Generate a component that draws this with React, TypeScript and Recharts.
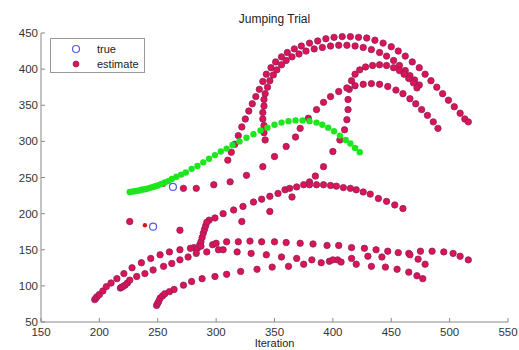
import { ScatterChart, Scatter, XAxis, YAxis } from 'recharts';

type P = [number, number];

const xTicks = [150, 200, 250, 300, 350, 400, 450, 500, 550];
const yTicks = [50, 100, 150, 200, 250, 300, 350, 400, 450];

// big outer arc (top band)
const outerArc: P[] = [
  [310, 274], [313, 285], [316, 296], [319, 308], [322, 320], [325, 331], [328, 342], [331, 352],
  [334, 362], [337, 372], [340, 383], [343, 393], [347, 402], [351, 410], [356, 417], [361, 423],
  [367, 428], [373, 432], [380, 436], [387, 439], [394, 442], [401, 444], [408, 445], [415, 445],
  [422, 444], [429, 443], [436, 440], [443, 436], [450, 431], [456, 425], [462, 418], [468, 410],
  [474, 402], [479, 393], [484, 384], [489, 375], [494, 366], [499, 357], [504, 348], [509, 339],
  [513, 331], [516, 327],
];

// inner arc of the top band
const innerArc: P[] = [
  [342, 302], [341, 312], [341, 322], [340, 331], [340, 340], [341, 349], [341, 358], [342, 366],
  [344, 375], [346, 384], [349, 392], [352, 399], [356, 406], [360, 412], [365, 417], [371, 421],
  [377, 425], [384, 428], [391, 430], [398, 432], [405, 433], [412, 433], [419, 432], [426, 430],
  [433, 427], [440, 423], [446, 418], [452, 412], [457, 405], [462, 398], [466, 391], [470, 385],
  [474, 378],
];

// arc rising from the middle arc with a vertical run
const verticalArc: P[] = [
  [380, 244], [385, 252], [392, 265], [400, 286], [406, 302], [410, 316], [412, 330], [413, 344],
  [413, 358], [414, 372], [416, 384], [419, 393], [423, 399], [428, 403], [434, 405], [440, 406],
  [446, 405], [452, 402], [457, 398], [461, 393], [465, 387], [469, 381], [472, 374],
];

// sparse diagonal turning into the lowest of the upper arcs
const diagArc: P[] = [
  [272, 235], [283, 235], [298, 240], [312, 244], [326, 253], [340, 265], [350, 279], [360, 293],
  [368, 306], [372, 318], [379, 332], [386, 344], [392, 354], [398, 362], [405, 369], [412, 374],
  [419, 377], [426, 379], [433, 380], [440, 379], [447, 376], [454, 371], [460, 366], [466, 359],
  [471, 352], [476, 344], [481, 336], [486, 327], [490, 318],
];

// middle arc ending near (460, 206)
const midArc: P[] = [
  [294, 191], [299, 194], [306, 200], [315, 205], [323, 210], [332, 216], [339, 220], [346, 224],
  [353, 228], [359, 233], [363, 235], [369, 237], [375, 240], [380, 240], [386, 240], [392, 240],
  [398, 239], [403, 238], [409, 236], [415, 235], [420, 233], [426, 230], [432, 227], [439, 221],
  [446, 217], [453, 212], [460, 207],
];

// vertical smear near x = 290
const smear: P[] = [
  [281, 153], [284, 152], [286, 157], [287, 161], [288, 167], [289, 173], [290, 178], [291, 183],
  [292, 188], [297, 157], [302, 150],
];

// scattered points
const scattered: P[] = [[226, 189], [269, 177], [322, 189], [346, 203], [365, 223]];

// lines along 150
const line1: P[] = [
  [196, 81], [197, 83], [198, 85], [200, 88], [203, 93], [206, 99], [210, 104], [215, 110],
  [221, 117], [228, 125], [236, 132], [244, 138], [252, 143], [260, 147], [269, 150], [278, 152],
  [287, 155], [300, 159], [309, 161], [319, 161], [329, 162], [339, 161], [350, 161], [360, 160],
  [372, 159], [383, 158], [395, 156], [405, 156], [416, 153], [427, 152], [437, 150], [447, 148],
  [456, 146], [465, 145], [475, 148], [485, 148], [495, 147], [503, 145], [509, 141], [516, 136],
];

const line2: P[] = [
  [218, 97], [219, 98], [220, 99], [222, 101], [224, 104], [226, 108], [232, 113], [239, 117],
  [246, 122], [255, 127], [262, 131], [269, 136], [276, 140], [283, 145], [292, 147], [306, 150],
  [318, 147], [330, 145], [343, 143], [356, 140], [369, 138], [382, 136], [397, 134], [404, 136],
  [416, 138], [430, 141], [442, 140], [466, 143], [473, 137], [479, 130],
];

const line3: P[] = [
  [249, 73], [250, 76], [251, 79], [252, 83], [254, 86], [256, 89], [260, 92], [264, 95],
  [272, 101], [279, 106], [288, 110], [299, 113], [309, 116], [321, 120], [335, 123], [348, 126],
  [362, 127], [375, 130], [390, 132], [400, 136], [407, 133], [420, 130], [433, 127], [445, 126],
  [455, 123], [465, 119], [472, 114], [477, 110],
];

const smallEstimate: P[] = [[255, 240], [239, 184]];
const truePts: P[] = [[263, 237], [246, 182]];

const greenArc: P[] = [
  [226, 230], [228, 230.5], [230, 231], [232, 231.5], [234, 232], [236, 233], [238, 233.5], [240, 234],
  [242, 235], [244, 236], [246, 237], [248, 238], [250, 239], [253, 241], [256, 243], [259, 245],
  [262, 248], [266, 251], [270, 254], [274, 257], [279, 262], [284, 266], [289, 271], [294, 276],
  [299, 281], [304, 286], [309, 290], [314, 295], [320, 300], [326, 305], [332, 310], [338, 315],
  [344, 319], [350, 323], [356, 326], [362, 328], [368, 329], [374, 329], [380, 328], [386, 326],
  [391, 323], [396, 319], [401, 314], [406, 308], [411, 302], [415, 297], [419, 291], [423, 285],
];

const toPts = (arr: P[]) => arr.map(([x, y]) => ({ x, y }));

const estimateData = toPts([
  ...outerArc, ...innerArc, ...verticalArc, ...diagArc, ...midArc,
  ...smear, ...scattered, ...line1, ...line2, ...line3,
]);

const RED = '#dc1450';
const GREEN = '#1ee61e';
const BLUE = '#5a5ae6';

const redDot = (p: any) => (
  <circle cx={p.cx} cy={p.cy} r={3.2} fill={RED} stroke="#8e1f68" strokeWidth={0.8} />
);
const smallRed = (p: any) => <circle cx={p.cx} cy={p.cy} r={2.2} fill="#e01020" />;
const greenDot = (p: any) => <circle cx={p.cx} cy={p.cy} r={3.2} fill={GREEN} />;
const blueRing = (p: any) => (
  <circle cx={p.cx} cy={p.cy} r={3.5} fill="none" stroke={BLUE} strokeWidth={1.2} />
);

const font = 'Liberation Sans, Arial, sans-serif';

export default function App() {
  return (
    <div style={{ position: 'absolute', left: 0, top: 0, width: 519, height: 350, background: '#fff', fontFamily: font }}>
      <div style={{ position: 'absolute', left: 0, width: 549, top: 12, textAlign: 'center', fontSize: 12, color: '#222' }}>
        Jumping Trial
      </div>
      <ScatterChart width={519} height={350} margin={{ top: 33, right: 11, bottom: 0, left: 0 }}>
        <XAxis
          type="number" dataKey="x" domain={[150, 550]} ticks={xTicks} interval={0}
          height={28} tickSize={-4} tickMargin={10} stroke="#888"
          tick={{ fill: '#333', fontSize: 11.5, fontFamily: font }} allowDataOverflow
        />
        <YAxis
          type="number" dataKey="y" domain={[50, 450]} ticks={yTicks} interval={0}
          width={41} tickSize={-4} tickMargin={7} stroke="#888"
          tick={{ fill: '#333', fontSize: 11.5, fontFamily: font }} allowDataOverflow
        />
        <Scatter name="true" data={toPts(truePts)} shape={blueRing} isAnimationActive={false} />
        <Scatter name="estimate" data={estimateData} shape={redDot} isAnimationActive={false} />
        <Scatter name="estimate small" data={toPts(smallEstimate)} shape={smallRed} isAnimationActive={false} />
        <Scatter name="measured" data={toPts(greenArc)} shape={greenDot} isAnimationActive={false} />
      </ScatterChart>
      <div
        style={{
          position: 'absolute', left: 50, top: 38, width: 95, height: 35, border: '1px solid #999',
          background: '#fff', boxSizing: 'border-box', fontSize: 11, color: '#222',
        }}
      >
        <svg width={93} height={33} style={{ display: 'block' }}>
          <circle cx={25} cy={10} r={3.5} fill="none" stroke={BLUE} strokeWidth={1.2} />
          <text x={46} y={14} fontSize={11} fill="#222" fontFamily={font}>true</text>
          <circle cx={25} cy={25} r={3} fill={RED} stroke="#8e1f68" strokeWidth={0.8} />
          <text x={46} y={29} fontSize={11} fill="#222" fontFamily={font}>estimate</text>
        </svg>
      </div>
      <div style={{ position: 'absolute', left: 0, width: 549, top: 337, textAlign: 'center', fontSize: 11, color: '#222' }}>
        Iteration
      </div>
    </div>
  );
}
